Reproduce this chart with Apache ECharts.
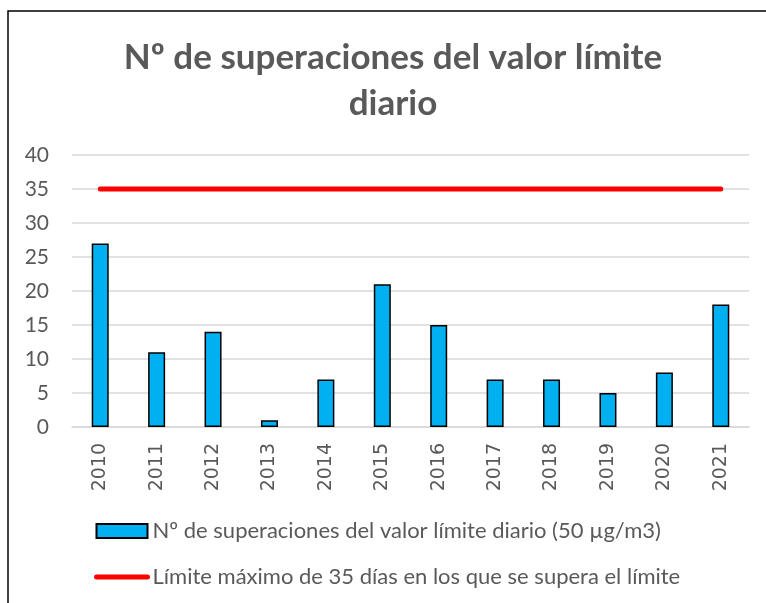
<!DOCTYPE html>
<html><head><meta charset="utf-8">
<script src="https://cdn.jsdelivr.net/npm/echarts@6/dist/echarts.min.js"></script>
<style>html,body{margin:0;padding:0;background:#fff}#c{width:766px;height:603px}</style>
</head><body><div id="c"></div>
<script>
const titleText = 'Nº de superaciones del valor límite\ndiario';
const years = ['2010','2011','2012','2013','2014','2015','2016','2017','2018','2019','2020','2021'];
const exceedances = [27, 11, 14, 1, 7, 21, 15, 7, 7, 5, 8, 18];
const limitValues = [35, 35, 35, 35, 35, 35, 35, 35, 35, 35, 35, 35];
const barName = 'Nº de superaciones del valor límite diario (50 µg/m3)';
const lineName = 'Límite máximo de 35 días en los que se supera el límite';

const FONT = 'Lato';
const chart = echarts.init(document.getElementById('c'));
chart.setOption({
  animation: false,
  backgroundColor: '#fff',
  graphic: [{type:'rect', shape:{x:8,y:11,width:800,height:700}, style:{fill:'none', stroke:'#000', lineWidth:1.5}, z:-1}],
  title: {
    text: titleText, left: 388, top: 30, textAlign: 'center',
    textStyle: {fontFamily: FONT, fontWeight: 'bold', fontSize: 35, color: '#595959', lineHeight: 46}
  },
  legend: {
    orient: 'vertical', left: 89, top: 515,
    itemWidth: 51, itemHeight: 14, itemGap: 24,
    textStyle: {fontFamily: FONT, fontSize: 22, color: '#595959', padding: [0,0,0,0]},
    data: [
      {name: barName, icon: 'rect'},
      {name: lineName, itemStyle: {opacity: 0}, lineStyle: {width: 5, cap: 'round', color: '#ff0000'}}
    ]
  },
  grid: {left: 72, right: 17, top: 155, bottom: 176, containLabel: false},
  xAxis: {
    type: 'category', data: years,
    axisLine: {lineStyle: {color: '#d9d9d9', width: 1.5}},
    axisTick: {show: false},
    axisLabel: {rotate: 90, margin: 16, fontFamily: 'DejaVu Sans', fontSize: 19, color: '#595959'}
  },
  yAxis: {
    type: 'value', min: 0, max: 40, interval: 5,
    axisLine: {show: false}, axisTick: {show: false},
    splitLine: {lineStyle: {color: '#d9d9d9', width: 1.5}},
    axisLabel: {fontFamily: FONT, fontSize: 21, color: '#595959', margin: 23}
  },
  series: [
    {name: barName, type: 'bar', data: exceedances, barWidth: 17,
     itemStyle: {color: '#00b0f0', borderColor: '#000', borderWidth: 1.5}},
    {name: lineName, type: 'line', data: limitValues, symbol: 'none',
     lineStyle: {color: '#ff0000', width: 5, cap: 'round'}, itemStyle: {color: '#ff0000'}}
  ]
});
</script></body></html>
